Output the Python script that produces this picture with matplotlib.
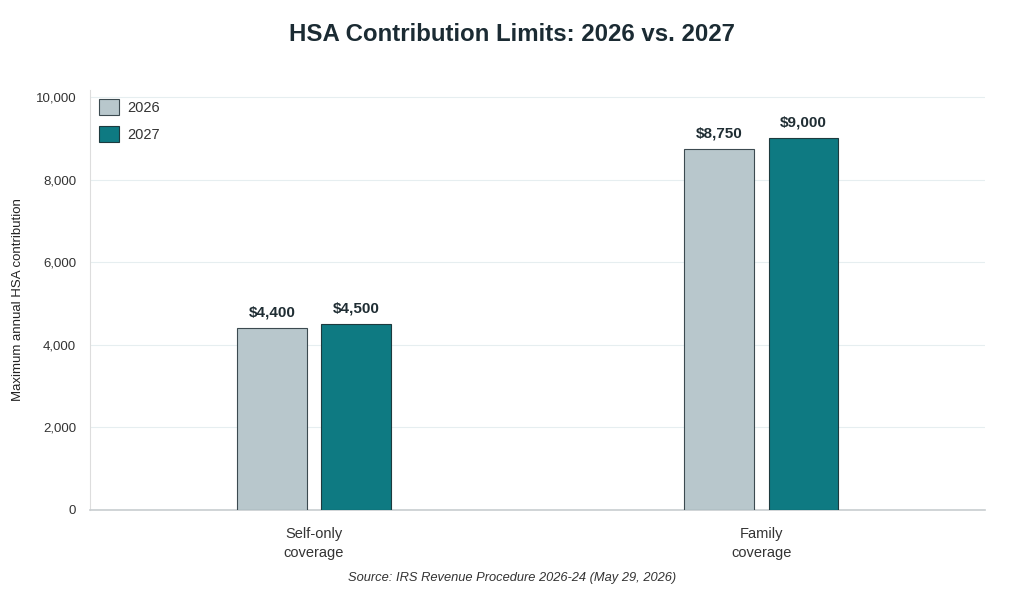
import matplotlib
matplotlib.use("Agg")
import matplotlib.pyplot as plt
import numpy as np

plt.rcParams['font.family'] = ['Liberation Sans', 'DejaVu Sans']

categories = ["Self-only\ncoverage", "Family\ncoverage"]
series_names = ["2026", "2027"]
values_2026 = [4400, 8750]
values_2027 = [4500, 9000]
yticks = [0, 2000, 4000, 6000, 8000, 10000]

fig = plt.figure(figsize=(10.24, 6.0), dpi=100)
ax = fig.add_axes([0.088, 0.15, 0.874, 0.70])

x = np.arange(len(categories))
w = 0.156
off = 0.094
c26, c27 = "#b8c7cc", "#0e7a82"
b1 = ax.bar(x - off, values_2026, w, color=c26, edgecolor="#3c4a50", linewidth=0.8, label=series_names[0], zorder=3)
b2 = ax.bar(x + off, values_2027, w, color=c27, edgecolor="#1d3a3e", linewidth=0.8, label=series_names[1], zorder=3)

for bars in (b1, b2):
    for r in bars:
        ax.annotate(f"${r.get_height():,.0f}", (r.get_x() + r.get_width() / 2, r.get_height()),
                    xytext=(0, 6), textcoords="offset points", ha="center", va="bottom",
                    fontsize=11, fontweight="bold", color="#1f2d33")

ax.set_xlim(-0.5, 1.5)
ax.set_ylim(0, 10170)
ax.set_yticks(yticks)
ax.set_yticklabels([f"{v:,}" for v in yticks], fontsize=9.5, color="#333333")
ax.set_xticks(x)
ax.set_xticklabels(categories, fontsize=10.5, color="#333333", linespacing=1.5)
ax.tick_params(axis="x", length=0, pad=12)
ax.tick_params(axis="y", length=0, pad=10)
ax.grid(axis="y", color="#e6eef0", linewidth=0.8, zorder=0)
for s in ("top", "right"):
    ax.spines[s].set_visible(False)
ax.spines["left"].set_color("#dddddd")
ax.spines["bottom"].set_color("#c8cdd0")
ax.spines["bottom"].set_linewidth(1.2)
ax.set_ylabel("Maximum annual HSA contribution", fontsize=9.5, color="#222222", labelpad=8)

leg = ax.legend(loc="upper left", frameon=False, fontsize=10.5, handlelength=1.35, handleheight=1.35,
                borderaxespad=0.2, labelspacing=0.75, handletextpad=0.6)
for t in leg.get_texts():
    t.set_color("#333333")

fig.suptitle("HSA Contribution Limits: 2026 vs. 2027", fontsize=17.3, fontweight="bold", color="#1b2b33", y=0.962)
fig.text(0.5, 0.032, "Source: IRS Revenue Procedure 2026-24 (May 29, 2026)", ha="center", fontsize=9.3,
         style="italic", color="#333333")

fig.savefig("out.png", dpi=100, facecolor="white")
